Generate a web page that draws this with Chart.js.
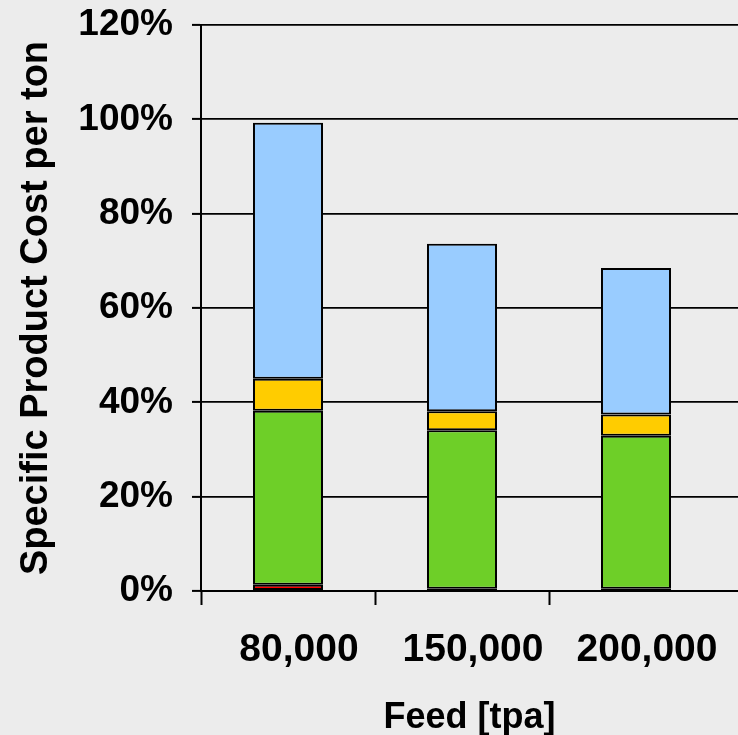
<!DOCTYPE html>
<html>
<head>
<meta charset="utf-8">
<script src="https://cdn.jsdelivr.net/npm/chart.js@4/dist/chart.umd.min.js"></script>
<style>
  html, body { margin: 0; padding: 0; background: #ececec; overflow: hidden; }
  #wrap { width: 738px; height: 735px; position: relative; }
</style>
</head>
<body>
<div id="wrap"><canvas id="c"></canvas></div>
<script>
// Categories (feed in tpa)
const categories = ["80,000", "150,000", "200,000"];
// Stacked cost components (% of reference cost), bottom to top
const redPart    = [1.3, 0.5, 0.5];
const greenPart  = [36.9, 33.6, 32.4];
const yellowPart = [6.8, 4.0, 4.5];
const bluePart   = [54.3, 35.5, 31.1];
// Y axis tick labels
const yMax = 120;
const yStep = 10;
const yLabelStep = 20;

const FONT = "'Liberation Sans', Arial, Helvetica, sans-serif";

function toPoints(arr) { return arr.map((v, i) => ({ x: i, y: v })); }

const dsCommon = {
  borderColor: '#000',
  borderWidth: 2,
  borderSkipped: false,
  barPercentage: 0.805,
  categoryPercentage: 1.0
};

new Chart(document.getElementById('c'), {
  type: 'bar',
  data: {
    datasets: [
      Object.assign({ label: 'Component 1', data: toPoints(redPart),    backgroundColor: '#ff0000' }, dsCommon),
      Object.assign({ label: 'Component 2', data: toPoints(greenPart),  backgroundColor: '#6ecf28' }, dsCommon),
      Object.assign({ label: 'Component 3', data: toPoints(yellowPart), backgroundColor: '#ffcc00' }, dsCommon),
      Object.assign({ label: 'Component 4', data: toPoints(bluePart),   backgroundColor: '#99ccff' }, dsCommon)
    ]
  },
  options: {
    responsive: true,
    maintainAspectRatio: false,
    animation: false,
    layout: { padding: { top: 25, right: 0, bottom: 0, left: 0 } },
    plugins: { legend: { display: false }, tooltip: { enabled: false } },
    scales: {
      x: {
        type: 'linear',
        stacked: true,
        offset: false,
        min: -0.5,
        max: -0.5 + 537 / 174,
        afterFit(scale) {
          scale.height = 144;
          scale.paddingLeft = 0;
          scale.paddingRight = 0;
        },
        afterBuildTicks(scale) {
          const t = [];
          for (let i = 0; i < categories.length; i++) {
            t.push({ value: i - 0.5 });
            t.push({ value: i });
          }
          scale.ticks = t;
        },
        grid: {
          offset: false,
          drawOnChartArea: false,
          drawTicks: true,
          tickLength: 14,
          tickWidth: 2,
          tickColor: (ctx) => (ctx.tick && Number.isInteger(ctx.tick.value)) ? 'rgba(0,0,0,0)' : '#000'
        },
        border: { display: true, color: '#000', width: 2 },
        ticks: {
          autoSkip: false,
          maxRotation: 0,
          minRotation: 0,
          padding: 22,
          labelOffset: 11,
          color: '#000',
          font: { family: FONT, size: 39, weight: 'bold' },
          callback: (v) => Number.isInteger(v) ? categories[v] : ''
        },
        title: {
          display: true,
          text: 'Feed [tpa]',
          color: '#000',
          font: { family: FONT, size: 36, weight: 'bold' },
          padding: { top: 0, bottom: -5 }
        }
      },
      y: {
        stacked: true,
        min: 0,
        max: yMax,
        afterFit(scale) {
          scale.width = 201;
          scale.paddingTop = 0;
          scale.paddingBottom = 0;
        },
        grid: {
          color: '#000',
          lineWidth: 1.8,
          drawTicks: true,
          tickLength: 9,
          tickWidth: 2,
          tickColor: (ctx) => (ctx.tick && ctx.tick.value % yLabelStep === 0) ? '#000' : 'rgba(0,0,0,0)'
        },
        border: { display: true, color: '#000', width: 2 },
        ticks: {
          stepSize: yStep,
          padding: 19,
          color: '#000',
          font: { family: FONT, size: 37, weight: 'bold' },
          callback: (v) => (v % yLabelStep === 0) ? v + '%' : ''
        },
        title: {
          display: true,
          text: 'Specific Product Cost per ton',
          color: '#000',
          font: { family: FONT, size: 38, weight: 'bold' },
          padding: { top: 14, bottom: 0 }
        }
      }
    }
  }
});
</script>
</body>
</html>
